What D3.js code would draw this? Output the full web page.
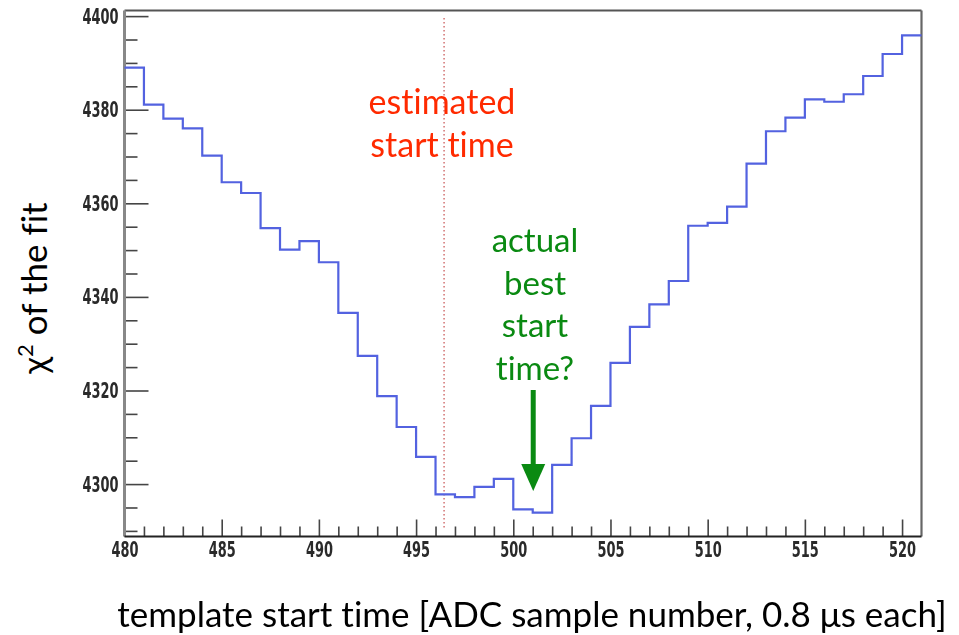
<!DOCTYPE html>
<html>
<head>
<meta charset="utf-8">
<script src="https://cdn.jsdelivr.net/npm/d3@7"></script>
<style>
  html, body { margin: 0; padding: 0; background: #fff; }
  svg { display: block; }
  .note { font-family: Lato, "Open Sans", sans-serif; font-size: 33px; font-variant-ligatures: none; }
</style>
</head>
<body>
<svg id="chart" width="959" height="635"></svg>
<script>
// Chi-square of the template fit for each trial start time (one bin per ADC sample)
const startTimes = d3.range(480, 521);
const chi2Values = [
  4389.0, 4381.1, 4378.1, 4376.0, 4370.2, 4364.5, 4362.2, 4354.7, 4350.1, 4351.9,
  4347.4, 4336.6, 4327.4, 4318.8, 4312.2, 4305.8, 4297.8, 4297.2, 4299.4, 4301.1,
  4294.6, 4293.9, 4304.1, 4309.8, 4316.7, 4325.9, 4333.6, 4338.4, 4343.4, 4355.2,
  4355.8, 4359.3, 4368.5, 4375.4, 4378.3, 4382.2, 4381.7, 4383.3, 4387.2, 4391.9,
  4395.9
];
const xDomain = [480, 521];
const yDomain = [4288.8, 4401.2];
const xMajorTicks = [480, 485, 490, 495, 500, 505, 510, 515, 520];
const yMajorTicks = [4300, 4320, 4340, 4360, 4380, 4400];
const estimatedStart = 496.44;
const bestStart = 501;

const svg = d3.select("#chart");
const pLeft = 124.5, pRight = 921.5, pTop = 10.5, pBottom = 536.5;

const x = d3.scaleLinear().domain(xDomain).range([pLeft, pRight]);
const y = d3.scaleLinear().domain(yDomain).range([pBottom, pTop]);

// soft rendering of the plotted frame
const defs = svg.append("defs");
defs.append("filter").attr("id", "soft")
  .attr("x", "-5%").attr("y", "-5%").attr("width", "110%").attr("height", "110%")
  .append("feGaussianBlur").attr("stdDeviation", 0.6);

const plot = svg.append("g").attr("filter", "url(#soft)");

const styleTicks = g => {
  g.select(".domain").remove();
  g.selectAll("line").attr("stroke", "#444").attr("stroke-width", 1.6);
};
// narrow bold tick labels
const narrow = g => g.selectAll("text")
  .style("font-family", "'DejaVu Sans Condensed', 'Liberation Sans', sans-serif")
  .style("font-weight", "bold")
  .style("font-size", "22px")
  .style("fill", "#2a2a2a")
  .attr("textLength", function () { return this.textContent.length * 9; })
  .attr("lengthAdjust", "spacingAndGlyphs");

// minor ticks
const xMinor = d3.range(481, 521).filter(v => v % 5 !== 0);
plot.append("g").attr("transform", `translate(0,${pBottom})`)
  .call(d3.axisBottom(x).tickValues(xMinor).tickSize(-10).tickFormat(""))
  .call(styleTicks);
const yMinor = d3.range(4290, 4400, 5).filter(v => v % 20 !== 0);
plot.append("g").attr("transform", `translate(${pLeft},0)`)
  .call(d3.axisLeft(y).tickValues(yMinor).tickSize(-13).tickFormat(""))
  .call(styleTicks);

// major ticks with labels
plot.append("g").attr("transform", `translate(0,${pBottom})`)
  .call(d3.axisBottom(x).tickValues(xMajorTicks).tickSize(-17).tickPadding(5).tickFormat(d3.format("d")))
  .call(styleTicks).call(narrow);
plot.append("g").attr("transform", `translate(${pLeft},0)`)
  .call(d3.axisLeft(y).tickValues(yMajorTicks).tickSize(-24).tickPadding(6).tickFormat(d3.format("d")))
  .call(styleTicks).call(narrow);

// frame
plot.append("line").attr("x1", pLeft).attr("x2", pRight).attr("y1", pTop).attr("y2", pTop)
  .attr("stroke", "#555").attr("stroke-width", 2.2);
plot.append("line").attr("x1", pRight).attr("x2", pRight).attr("y1", pTop).attr("y2", pBottom)
  .attr("stroke", "#666").attr("stroke-width", 2.2);
plot.append("line").attr("x1", pLeft).attr("x2", pLeft).attr("y1", pTop).attr("y2", pBottom)
  .attr("stroke", "#888").attr("stroke-width", 3);
plot.append("line").attr("x1", pLeft).attr("x2", pRight).attr("y1", pBottom).attr("y2", pBottom)
  .attr("stroke", "#222").attr("stroke-width", 2.2);

// estimated start time marker
plot.append("line")
  .attr("x1", x(estimatedStart)).attr("x2", x(estimatedStart))
  .attr("y1", 18).attr("y2", 530)
  .attr("stroke", "#d47a7a").attr("stroke-width", 1.6)
  .attr("stroke-dasharray", "1.6,2.4");

// step histogram
const pts = startTimes.map((t, i) => [t, chi2Values[i]]);
pts.push([xDomain[1], chi2Values[chi2Values.length - 1]]);
plot.append("path")
  .datum(pts)
  .attr("fill", "none")
  .attr("stroke", "#5262e0")
  .attr("stroke-width", 2.2)
  .attr("d", d3.line().x(d => x(d[0])).y(d => y(d[1])).curve(d3.curveStepAfter));

// annotations
const red = "#ff2a00", green = "#0a8a12";
const est = svg.append("text").attr("class", "note").attr("fill", red)
  .attr("text-anchor", "middle").style("font-size", "34px");
est.append("tspan").attr("x", 442).attr("y", 114).text("estimated");
est.append("tspan").attr("x", 442).attr("y", 157).text("start time");

const best = svg.append("text").attr("class", "note").attr("fill", green).attr("text-anchor", "middle");
["actual", "best", "start", "time?"].forEach((s, i) => {
  best.append("tspan").attr("x", 535).attr("y", 252 + i * 42.5).text(s);
});

const ax = x(bestStart) + 0.5;
svg.append("line").attr("x1", ax).attr("x2", ax).attr("y1", 390).attr("y2", 470)
  .attr("stroke", green).attr("stroke-width", 5);
svg.append("path")
  .attr("d", `M${ax - 12},464 L${ax + 12},464 L${ax},491 Z`)
  .attr("fill", green);

// axis titles
svg.append("text").attr("class", "note")
  .attr("text-anchor", "middle").attr("fill", "#000")
  .attr("x", 532).attr("y", 627).style("font-size", "35px")
  .text("template start time [ADC sample number, 0.8 μs each]");

const yt = svg.append("text").attr("class", "note")
  .attr("text-anchor", "middle").attr("fill", "#000")
  .attr("transform", "translate(47,288) rotate(-90)").style("font-size", "35px");
yt.append("tspan").text("χ");
yt.append("tspan").attr("dy", -14).style("font-size", "22px").text("2");
yt.append("tspan").attr("dy", 14).text(" of the fit");
</script>
</body>
</html>
